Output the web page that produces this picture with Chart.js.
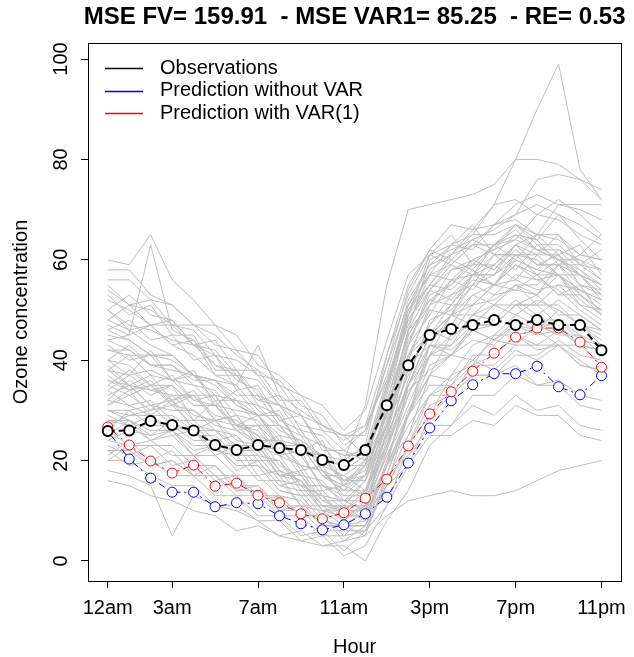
<!DOCTYPE html>
<html lang="en">
<head>
	<meta charset="UTF-8">
	<script src="https://cdn.jsdelivr.net/npm/chart.js@4"></script>
	<style>
		body { margin: 0; background: #fff; }
		canvas { display: block; }
	</style>
</head>
<body>
	<canvas id="ozone" width="634" height="657"></canvas>
	<script>
	// hours 0..23 and the axis labels
	var hours = [0,1,2,3,4,5,6,7,8,9,10,11,12,13,14,15,16,17,18,19,20,21,22,23];
	var xTickValues = [0, 3, 7, 11, 15, 19, 23];
	var xTickLabels = ['12am', '3am', '7am', '11am', '3pm', '7pm', '11pm'];
	var yTickValues = [0, 20, 40, 60, 80, 100];

	var titleText = 'MSE FV= 159.91  - MSE VAR1= 85.25  - RE= 0.53';
	var legendLabels = ['Observations', 'Prediction without VAR', 'Prediction with VAR(1)'];
	var legendColors = ['#000000', '#0000ff', '#ff0000'];

	// main series
	var observations = [25.9,26,27.9,27.1,26,23.1,22.1,23.1,22.5,22.1,20.1,19.1,22.1,31,39,45,46.2,47,48,47,48,47,47,42];
	var predNoVar = [25.9,20.3,16.5,13.7,13.7,10.8,11.6,11.4,9,7.4,6.2,7.2,9.4,12.7,19.5,26.5,31.9,35.1,37.3,37.3,38.8,34.7,33.1,36.9];
	var predVar1 = [26.7,23.1,19.9,17.5,19.1,14.9,15.5,13.1,11.6,9.4,8.4,9.6,12.5,16.3,22.9,29.3,33.7,37.8,41.4,44.6,46.4,46.4,43.6,38.6];

	// background daily curves (grey)
	var gray01 = [60,59,65,56,52,47,45,39,37,33,31,26,30,44,57,61,65,59,63,66,62,60,57,55];
	var gray02 = [58,58,53,51,47,45,41,38,35,29,27,25,27,41,55,62,67,66,71,72,69,68,65,63];
	var gray03 = [47,45,63,46,44,39,37,32,31,27,26,22,26,37,52,59,63,62,67,68,65,64,61,60];
	var gray04 = [55,51,50,47,46,41,40,37,31,29,23,21,22,36,49,58,61,66,67,71,73,71,70,68];
	var gray05 = [42,41,37,36,35,31,30,29,25,24,21,20,31,55,70,71,72,73,75,80,80,79,76,72];
	var gray06 = [38,35,34,33,29,28,27,23,22,19,18,14,19,34,50,57,63,65,71,80,90,99,78,72];
	var gray07 = [50,47,46,44,43,39,38,33,31,25,23,18,21,31,49,55,61,63,67,69,76,77,76,74];
	var gray08 = [45,44,41,41,37,36,33,33,27,25,19,17,20,29,46,51,58,59,63,64,69,72,69,65];
	var gray09 = [40,43,39,38,37,33,32,29,29,23,21,15,19,27,43,49,56,57,63,65,64,59,57,52];
	var gray10 = [36,34,35,32,33,29,28,25,23,17,16,11,16,25,41,47,53,55,61,61,60,57,57,53];
	var gray11 = [35,33,30,31,27,26,23,23,17,17,12,10,14,23,39,45,51,51,55,56,54,55,51,50];
	var gray12 = [33,35,31,30,30,27,26,23,21,15,13,9,11,23,35,45,47,53,55,59,56,57,54,52];
	var gray13 = [30,29,29,26,27,23,23,19,17,11,11,8,11,19,35,41,49,49,53,54,57,53,53,49];
	var gray14 = [28,28,25,26,23,23,19,19,14,13,8,7,8,19,29,41,45,51,52,55,51,51,47,46];
	var gray15 = [26,23,24,21,21,17,17,13,13,9,9,5,9,15,29,37,45,47,51,51,51,47,47,43];
	var gray16 = [24,23,19,20,17,17,13,13,9,9,5,5,6,16,25,37,41,47,47,51,48,48,44,43];
	var gray17 = [22,19,20,17,17,13,13,9,9,5,6,2,6,11,23,29,37,39,45,45,46,43,43,39];
	var gray18 = [20,20,17,15,15,11,11,8,8,4,5,1,3,11,19,29,33,39,41,45,42,43,39,38];
	var gray19 = [18,17,15,5,13,11,10,8,5,6,3,3,0,8,14,23,27,33,33,37,35,36,33,32];
	var gray20 = [16,15,13,12,10,9,6,7,5,4,3,4,5,9,12,13,14,13,13,14,16,18,19,20];
	var gray21 = [48,46,43,41,37,35,31,29,24,23,17,14,17,27,41,45,49,51,55,54,53,49,49,46];
	var gray22 = [52,50,47,47,43,41,36,34,28,26,20,19,19,34,49,61,63,67,61,61,61,65,59,56];
	var gray23 = [44,42,39,39,35,34,29,28,23,21,15,13,13,25,35,43,43,47,47,51,51,55,54,52];
	var gray24 = [38,37,34,35,31,31,27,26,21,19,13,12,12,23,33,41,41,44,43,47,45,46,43,42];
	var gray25 = [32,31,29,29,26,26,22,22,17,16,11,11,11,21,29,35,35,39,39,43,43,46,43,42];
	var gray26 = [30,30,27,27,24,24,20,20,15,14,9,9,9,19,27,33,33,37,37,41,41,44,41,40];
	var gray27 = [27,29,30,33,33,33,27,25,19,17,11,11,11,21,31,41,43,49,51,55,55,59,59,62];
	var gray28 = [34,37,38,36,32,31,26,24,18,16,10,9,9,19,29,39,41,46,47,51,53,59,61,65];
	var gray29 = [40,39,35,35,31,31,27,27,23,23,17,15,17,31,43,53,55,59,59,63,59,59,53,50];
	var gray30 = [46,44,41,40,37,36,35,43,33,30,27,24,27,36,48,54,58,60,62,64,62,60,58,54];
	var gray31 = [24,26,25,28,25,25,21,21,16,15,10,10,10,19,25,33,35,41,41,45,43,43,39,38];
	var gray32 = [20,23,23,23,19,19,15,15,11,11,7,7,7,15,23,33,37,43,45,49,47,47,43,42];
	var gray33 = [30,28,26,26,22,23,19,19,14,13,8,7,7,15,19,25,25,28,27,31,29,29,25,24];
	var gray34 = [36,35,31,32,28,28,24,23,18,16,11,10,10,17,21,27,27,31,29,33,30,31,27,26];
	var gray35 = [42,42,39,39,36,36,32,31,26,24,18,16,16,27,37,47,51,57,57,61,57,57,51,48];
	var gray36 = [50,53,49,48,43,42,37,36,31,29,23,21,21,35,47,57,59,63,63,67,65,65,61,60];
	var gray37 = [56,56,52,51,47,47,42,41,35,33,27,25,25,39,51,59,61,65,65,67,63,63,59,58];
	var gray38 = [28,27,24,25,21,21,17,17,13,12,7,7,7,17,29,43,49,57,59,63,59,59,55,54];
	var gray39 = [22,22,19,20,17,17,14,14,10,10,6,6,6,15,23,31,33,37,37,39,35,35,31,30];
	var gray40 = [38,41,41,41,37,36,31,29,23,21,15,14,14,25,35,45,49,55,57,63,65,71,71,71];
	var gray41 = [44,45,47,43,41,37,35,30,27,22,20,16,17,29,45,52,55,60,58,62,59,61,55,53];
	var gray42 = [31,33,35,31,30,26,25,21,20,14,14,10,13,26,40,51,53,57,57,60,58,57,52,49];
	var gray43 = [26,30,31,27,26,22,21,16,16,11,10,7,10,22,36,48,50,55,53,57,56,54,50,47];
	var gray44 = [53,49,51,45,45,38,38,31,29,22,21,16,18,30,46,60,62,64,66,69,71,69,67,64];
	var gray45 = [34,31,32,28,28,24,25,20,20,15,15,12,14,22,34,38,41,40,44,43,47,45,45,43];
	var gray46 = [40,37,42,36,38,31,34,29,30,22,24,15,20,35,50,55,54,58,55,61,57,53,55,49];
	var gray47 = [32,36,33,35,28,32,26,27,21,22,14,15,13,30,46,54,59,57,61,58,63,60,60,56];
	var gray48 = [50,46,47,43,44,37,37,32,33,26,25,20,23,41,53,61,59,63,61,65,62,62,58,55];
	var gray49 = [25,28,24,26,21,23,18,20,15,16,10,11,8,20,33,43,41,46,44,48,46,50,47,45];
	var gray50 = [37,34,36,31,33,28,29,23,25,18,19,12,16,28,44,51,56,54,59,56,61,57,54,51];
	var gray51 = [46,48,44,45,40,41,34,35,28,29,22,22,20,32,45,52,51,56,55,60,58,62,60,58];
	var gray52 = [29,27,29,25,26,21,23,17,18,13,13,8,12,24,38,46,44,49,48,52,49,52,49,46];
	var gray53 = [43,40,41,36,37,32,32,27,27,22,21,16,19,33,48,55,60,58,63,60,65,61,63,57];
	var gray54 = [35,38,35,37,32,33,27,29,23,23,17,17,14,27,41,50,49,53,51,55,53,57,53,50];
	var gray55 = [21,24,20,22,17,19,14,15,10,11,7,7,5,17,30,37,36,40,38,42,40,43,40,37];
	var gray56 = [54,51,52,47,47,43,42,37,36,31,29,23,26,39,54,62,60,64,62,67,64,69,64,60];
	var gray57 = [31,34,29,32,26,28,22,23,17,18,12,12,10,26,43,54,52,57,55,59,57,60,57,55];
	var gray58 = [39,35,37,32,34,28,29,24,24,19,18,13,17,30,39,43,42,46,44,47,46,48,45,41];
	var gray59 = [23,21,23,19,20,16,17,12,13,9,9,4,7,19,35,45,49,47,51,49,52,50,47,44];
	var gray60 = [48,51,47,48,43,44,38,38,32,32,26,25,21,35,51,57,56,60,58,63,61,61,57,53];

	var grays = [gray01,gray02,gray03,gray04,gray05,gray06,gray07,gray08,gray09,gray10,
		gray11,gray12,gray13,gray14,gray15,gray16,gray17,gray18,gray19,gray20,
		gray21,gray22,gray23,gray24,gray25,gray26,gray27,gray28,gray29,gray30,
		gray31,gray32,gray33,gray34,gray35,gray36,gray37,gray38,gray39,gray40,
		gray41,gray42,gray43,gray44,gray45,gray46,gray47,gray48,gray49,gray50,
		gray51,gray52,gray53,gray54,gray55,gray56,gray57,gray58,gray59,gray60];

	var FONT = '"Liberation Sans", Arial, sans-serif';

	function toPoints(arr) {
		return arr.map(function(v, i) { return { x: hours[i], y: v }; });
	}

	function mainSeries(data, color, width, dash, radius) {
		return {
			data: toPoints(data),
			borderColor: color,
			borderWidth: width,
			borderDash: dash,
			pointRadius: radius,
			pointBorderColor: color,
			pointBorderWidth: width,
			pointBackgroundColor: '#fff',
			tension: 0
		};
	}

	// first dataset is drawn on top
	var datasets = [
		mainSeries(observations, '#000000', 2, [7, 4], 5),
		mainSeries(predVar1, '#ff0000', 1, [2, 4, 7, 4], 5),
		mainSeries(predNoVar, '#0000ff', 1, [2, 4, 7, 4], 5)
	];
	grays.forEach(function(g) {
		datasets.push({
			data: toPoints(g),
			borderColor: '#bebebe',
			borderWidth: 1,
			pointRadius: 0,
			tension: 0
		});
	});

	var overlay = {
		id: 'overlay',
		afterDraw: function(chart) {
			var ctx = chart.ctx, a = chart.chartArea, ys = chart.scales.y;
			var cx = (a.left + a.right) / 2;
			ctx.save();
			ctx.setLineDash([]);
			ctx.globalAlpha = 1;
			// plot box
			ctx.strokeStyle = '#000';
			ctx.lineWidth = 1;
			ctx.strokeRect(Math.round(a.left) + 0.5, Math.round(a.top) + 0.5, Math.round(a.right - a.left), Math.round(a.bottom - a.top));

			// legend keys
			ctx.lineWidth = 1.4;
			for (var i = 0; i < legendLabels.length; i++) {
				var ky = Math.round(68 + i * 22.5) + 0.5;
				ctx.strokeStyle = legendColors[i];
				ctx.beginPath();
				ctx.moveTo(105, ky);
				ctx.lineTo(143, ky);
				ctx.stroke();
			}

			ctx.fillStyle = '#000';
			ctx.textAlign = 'center';
			ctx.textBaseline = 'middle';

			// y tick labels, rotated like R
			ctx.font = '20px ' + FONT;
			yTickValues.forEach(function(v) {
				ctx.save();
				ctx.translate(61, ys.getPixelForValue(v));
				ctx.rotate(-Math.PI / 2);
				ctx.fillText(String(v), 0, 0);
				ctx.restore();
			});

			// y axis title
			ctx.save();
			ctx.translate(21, (a.top + a.bottom) / 2);
			ctx.rotate(-Math.PI / 2);
			ctx.fillText('Ozone concentration', 0, 0);
			ctx.restore();

			// x axis title
			ctx.fillText('Hour', cx, 647);

			// main title
			ctx.font = 'bold 24px ' + FONT;
			ctx.fillText(titleText, cx, 17);

			// legend text
			ctx.font = '20px ' + FONT;
			ctx.textAlign = 'left';
			for (var j = 0; j < legendLabels.length; j++) {
				ctx.fillText(legendLabels[j], 160, 68 + j * 22.5);
			}
			ctx.restore();
		}
	};

	new Chart(document.getElementById('ozone'), {
		type: 'line',
		data: { datasets: datasets },
		options: {
			responsive: false,
			animation: false,
			devicePixelRatio: 1,
			layout: { padding: { top: 43, right: 7, left: 0, bottom: 0 } },
			plugins: {
				legend: { display: false },
				tooltip: { enabled: false },
				title: { display: false }
			},
			scales: {
				x: {
					type: 'linear',
					min: -0.92,
					max: 23.92,
					afterFit: function(s) { s.height = 76; },
					afterBuildTicks: function(s) {
						s.ticks = xTickValues.map(function(v) { return { value: v }; });
					},
					ticks: {
						autoSkip: false,
						maxRotation: 0,
						minRotation: 0,
						padding: 8,
						color: '#000',
						font: { family: FONT, size: 20 },
						callback: function(v) {
							var k = xTickValues.indexOf(v);
							return k >= 0 ? xTickLabels[k] : '';
						}
					},
					grid: { drawOnChartArea: false, color: '#000', tickLength: 7, lineWidth: 1 },
					border: { display: false }
				},
				y: {
					type: 'linear',
					min: -4,
					max: 103.2,
					afterFit: function(s) { s.width = 88; },
					afterBuildTicks: function(s) {
						s.ticks = yTickValues.map(function(v) { return { value: v }; });
					},
					ticks: {
						color: 'rgba(0,0,0,0)',
						font: { family: FONT, size: 20 }
					},
					grid: { drawOnChartArea: false, color: '#000', tickLength: 7, lineWidth: 1 },
					border: { display: false }
				}
			}
		},
		plugins: [overlay]
	});
	</script>
</body>
</html>
